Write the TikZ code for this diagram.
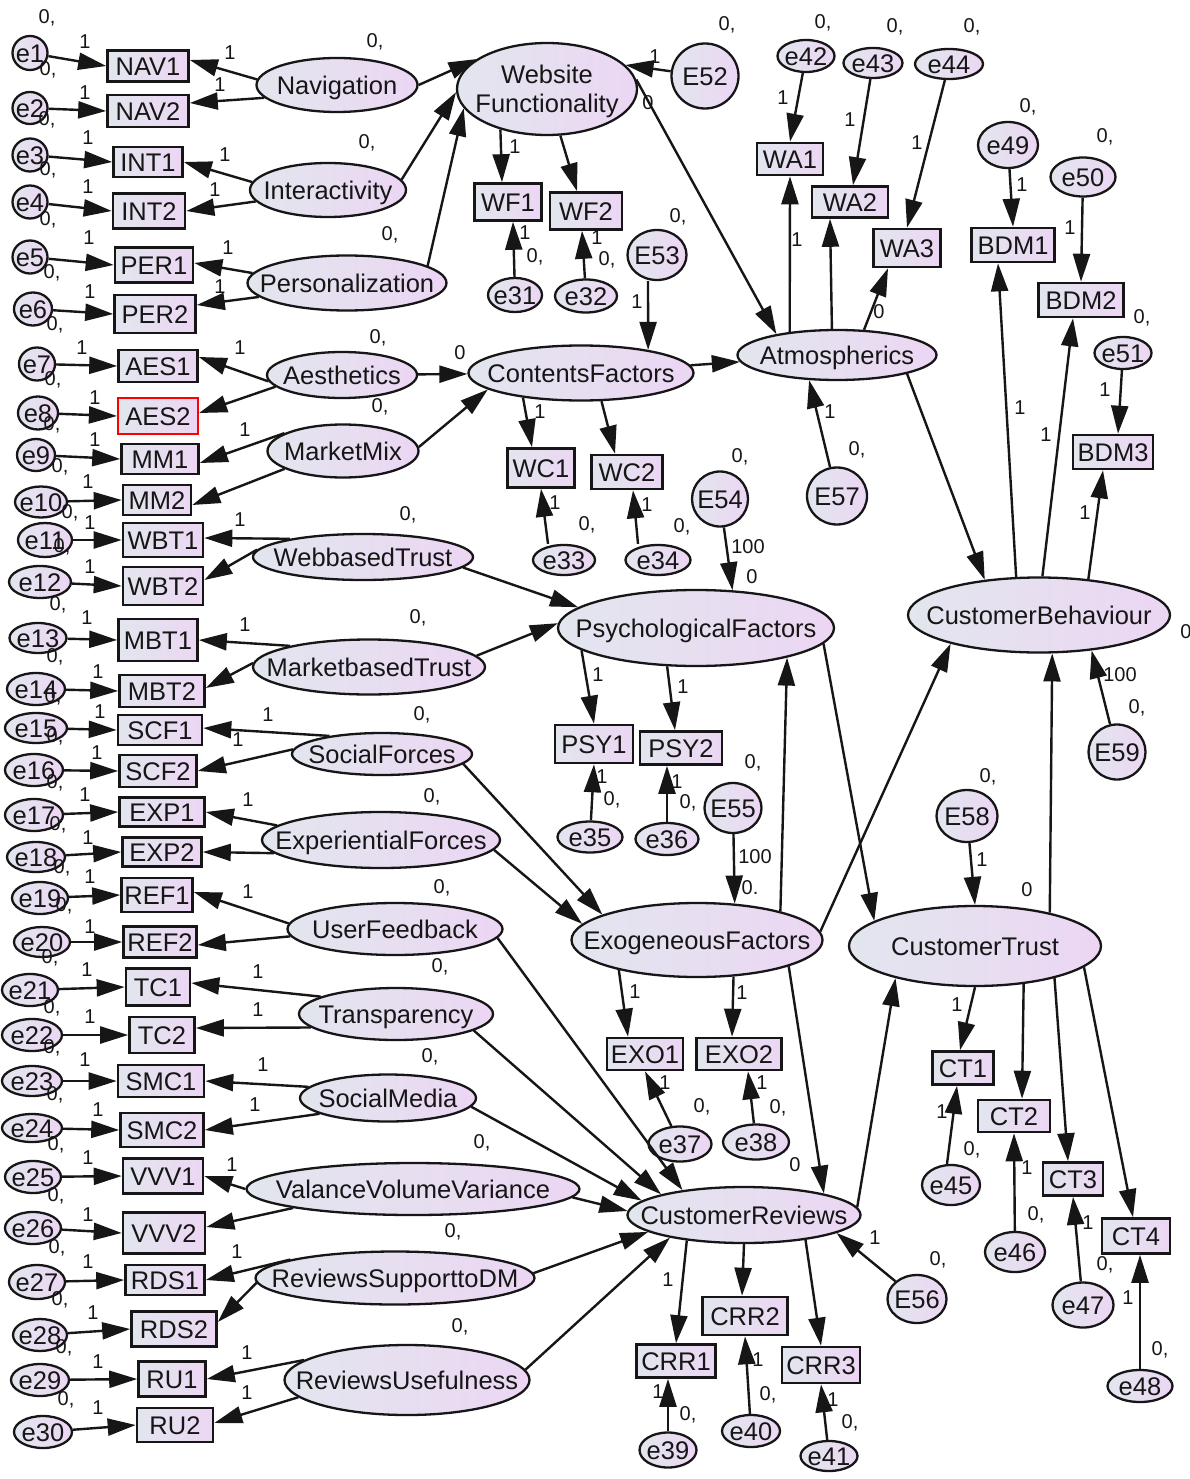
\documentclass[tikz,border=0pt]{standalone}
\usepackage{fontspec}
\setmainfont{Liberation Sans}
\usetikzlibrary{arrows.meta,shapes.geometric}
\definecolor{shl}{RGB}{226,230,238}
\definecolor{shr}{RGB}{236,214,243}
\definecolor{ink}{RGB}{22,22,22}
% centred text of zero size, so that node sizes come from minimum width/height only
\newcommand\zt[1]{\makebox[0pt]{\raisebox{-.36em}[0pt][0pt]{#1}}}
\newcommand\mkE[5]{\node[ov,minimum width=#4pt,minimum height=#5pt] (#1) at (#2) {\zt{#3}};}
\newcommand\mkB[5]{\node[bx,minimum width=#4pt,minimum height=#5pt] (#1) at (#2) {\zt{#3}};}
\tikzset{
  grad/.style={left color=shl,right color=shr},
  ov/.style={ellipse,draw=ink,line width=2.3pt,grad,inner sep=0pt,
    font=\fontsize{25.5}{29}\selectfont,text=ink},
  bx/.style={rectangle,draw=ink,line width=2.6pt,grad,inner sep=0pt,
    font=\fontsize{25.5}{29}\selectfont,text=ink},
  arr/.style={draw=ink,line width=2.4pt,-{Triangle[length=28pt,width=17pt]}},
  lab/.style={inner sep=0pt,font=\fontsize{20}{22}\selectfont,text=ink},
}
\begin{document}
\begin{tikzpicture}[x=1pt,y=-1pt]
\fill[white] (0,0) rectangle (1190,1479);
\useasboundingbox (0,0) rectangle (1190,1479);

% ---------- latent variables ----------
\mkE{nav}{337,85}{Navigation}{161}{54}
\mkE{int}{328,190}{Interactivity}{156}{54}
\mkE{per}{347,283}{Personalization}{199}{55}
\mkE{aes}{342,375}{Aesthetics}{150}{46}
\mkE{mm}{343,451}{MarketMix}{151}{53}
\mkE{wbt}{363,557}{WebbasedTrust}{220}{46}
\mkE{mbt}{369,667}{MarketbasedTrust}{232}{55}
\mkE{sf}{382,754}{SocialForces}{180}{42}
\mkE{expf}{381,840}{ExperientialForces}{238}{56}
\mkE{uf}{395,929}{UserFeedback}{215}{52}
\mkE{tr}{396,1014}{Transparency}{194}{52}
\mkE{sm}{388,1098}{SocialMedia}{176}{47}
\mkE{vvv}{413,1189}{ValanceVolumeVariance}{333}{52}
\mkE{rsdm}{395,1278}{ReviewsSupporttoDM}{279}{53}
\mkE{ru}{407,1380}{ReviewsUsefulness}{245}{70}
\mkE{wf}{547,89}{\begin{tabular}{@{}c@{}}Website\\Functionality\end{tabular}}{180}{92}
\mkE{cf}{581,373}{ContentsFactors}{225}{55}
\mkE{atm}{837,355}{Atmospherics}{199}{50}
\mkE{pf}{696,628}{PsychologicalFactors}{276}{76}
\mkE{ef}{697,940}{ExogeneousFactors}{251}{74}
\mkE{cr}{744,1215}{CustomerReviews}{233}{56}
\mkE{cb}{1039,615}{CustomerBehaviour}{262}{75}
\mkE{ct}{975,946}{CustomerTrust}{252}{80}

% ---------- error terms, left column ----------
\mkE{e1}{30,53}{e1}{35}{34}
\mkE{e2}{30,108}{e2}{35}{32}
\mkE{e3}{30,155}{e3}{35}{33}
\mkE{e4}{30,202}{e4}{35}{33}
\mkE{e5}{30,257}{e5}{35}{33}
\mkE{e6}{33,309}{e6}{38}{33}
\mkE{e7}{37,364}{e7}{36}{33}
\mkE{e8}{38,413}{e8}{40}{33}
\mkE{e9}{36,455}{e9}{38}{32}
\mkE{e10}{41,502}{e10}{52}{31}
\mkE{e11}{45,540}{e11}{54}{34}
\mkE{e12}{40,582}{e12}{62}{32}
\mkE{e13}{38,638}{e13}{57}{30}
\mkE{e14}{36,689}{e14}{58}{32}
\mkE{e15}{36,728}{e15}{62}{30}
\mkE{e16}{34,770}{e16}{58}{32}
\mkE{e17}{34,815}{e17}{58}{32}
\mkE{e18}{36,857}{e18}{58}{30}
\mkE{e19}{40,898}{e19}{56}{32}
\mkE{e20}{42,942}{e20}{56}{30}
\mkE{e21}{30,990}{e21}{56}{32}
\mkE{e22}{32,1035}{e22}{60}{32}
\mkE{e23}{32,1081}{e23}{60}{30}
\mkE{e24}{32,1128}{e24}{60}{28}
\mkE{e25}{33,1177}{e25}{56}{32}
\mkE{e26}{33,1228}{e26}{56}{32}
\mkE{e27}{37,1282}{e27}{56}{34}
\mkE{e28}{40,1335}{e28}{54}{32}
\mkE{e29}{40,1380}{e29}{58}{32}
\mkE{e30}{43,1432}{e30}{58}{32}

% ---------- indicators, left column ----------
\mkB{nav1}{148,66}{NAV1}{81}{31}
\mkB{nav2}{148,111}{NAV2}{81}{32}
\mkB{int1}{148,162}{INT1}{69}{30}
\mkB{int2}{149,211}{INT2}{72}{35}
\mkB{per1}{154,265}{PER1}{78}{35}
\mkB{per2}{155,314}{PER2}{81}{38}
\mkB{aes1}{158,366}{AES1}{79}{32}
\node[bx,draw=red,line width=2.2pt,minimum width=80pt,minimum height=36pt] (aes2) at (158,416) {\zt{AES2}};
\mkB{mm1}{160,459}{MM1}{77}{30}
\mkB{mm2}{157,500}{MM2}{68}{30}
\mkB{wbt1}{163,540}{WBT1}{80}{34}
\mkB{wbt2}{163,586}{WBT2}{80}{38}
\mkB{mbt1}{158,640}{MBT1}{79}{42}
\mkB{mbt2}{162,691}{MBT2}{85}{32}
\mkB{scf1}{160,730}{SCF1}{84}{30}
\mkB{scf2}{158,771}{SCF2}{77}{32}
\mkB{exp1}{162,812}{EXP1}{85}{29}
\mkB{exp2}{162,852}{EXP2}{79}{29}
\mkB{ref1}{157,895}{REF1}{71}{34}
\mkB{ref2}{160,942}{REF2}{73}{31}
\mkB{tc1}{158,987}{TC1}{64}{37}
\mkB{tc2}{162,1035}{TC2}{65}{36}
\mkB{smc1}{161,1081}{SMC1}{86}{32}
\mkB{smc2}{162,1130}{SMC2}{83}{34}
\mkB{vvv1}{163,1176}{VVV1}{80}{35}
\mkB{vvv2}{164,1233}{VVV2}{82}{41}
\mkB{rds1}{165,1280}{RDS1}{79}{30}
\mkB{rds2}{174,1329}{RDS2}{85}{35}
\mkB{ru1}{172,1379}{RU1}{67}{35}
\mkB{ru2}{175,1425}{RU2}{76}{34}

% ---------- indicators and errors, centre and right ----------
\mkB{wf1}{508,202}{WF1}{67}{37}
\mkB{wf2}{586,211}{WF2}{72}{37}
\mkE{e31}{515,295}{e31}{54}{34}
\mkE{e32}{586,296}{e32}{62}{33}
\mkE{E52}{705,76}{E52}{67}{65}
\mkE{E53}{657,255}{E53}{59}{50}
\mkB{wc1}{541,468}{WC1}{67}{39}
\mkB{wc2}{627,472}{WC2}{71}{34}
\mkE{e33}{564,560}{e33}{62}{30}
\mkE{e34}{658,560}{e34}{65}{30}
\mkE{E54}{720,499}{E54}{56}{55}
\mkB{psy1}{594,744}{PSY1}{78}{38}
\mkB{psy2}{681,748}{PSY2}{82}{33}
\mkE{e35}{590,837}{e35}{65}{31}
\mkE{e36}{667,839}{e36}{63}{32}
\mkE{E55}{733,808}{E55}{57}{50}
\mkB{exo1}{645,1054}{EXO1}{76}{32}
\mkB{exo2}{739,1054}{EXO2}{85}{32}
\mkE{e37}{680,1144}{e37}{63}{35}
\mkE{e38}{756,1142}{e38}{66}{35}
\mkB{crr1}{676,1361}{CRR1}{79}{33}
\mkB{crr2}{745,1316}{CRR2}{85}{38}
\mkB{crr3}{821,1365}{CRR3}{78}{36}
\mkE{e39}{668,1450}{e39}{57}{35}
\mkE{e40}{751,1431}{e40}{58}{32}
\mkE{e41}{829,1456}{e41}{57}{30}
\mkE{E56}{917,1299}{E56}{59}{48}
\mkE{e42}{806,56}{e42}{57}{32}
\mkE{e43}{873,63}{e43}{59}{30}
\mkE{e44}{949,64}{e44}{68}{30}
\mkB{wa1}{790,159}{WA1}{66}{32}
\mkB{wa2}{850,202}{WA2}{76}{31}
\mkB{wa3}{907,248}{WA3}{67}{38}
\mkE{e49}{1008,145}{e49}{60}{46}
\mkE{e50}{1083,177}{e50}{65}{39}
\mkE{e51}{1123,353}{e51}{57}{32}
\mkB{bdm1}{1013,245}{BDM1}{83}{34}
\mkB{bdm2}{1081,300}{BDM2}{85}{34}
\mkB{bdm3}{1113,452}{BDM3}{80}{34}
\mkE{E57}{837,496}{E57}{60}{57}
\mkE{E59}{1117,752}{E59}{57}{55}
\mkE{E58}{967,816}{E58}{61}{52}
\mkB{ct1}{963,1068}{CT1}{61}{33}
\mkB{ct2}{1014,1116}{CT2}{72}{32}
\mkB{ct3}{1073,1179}{CT3}{60}{33}
\mkB{ct4}{1136,1236}{CT4}{68}{35}
\mkE{e45}{951,1185}{e45}{58}{40}
\mkE{e46}{1015,1252}{e46}{60}{40}
\mkE{e47}{1083,1305}{e47}{61}{45}
\mkE{e48}{1140,1386}{e48}{65}{32}

% ---------- error terms into left indicators ----------
\foreach \e/\b in {e1/nav1,e2/nav2,e3/int1,e4/int2,e5/per1,e6/per2,e7/aes1,e8/aes2,
  e9/mm1,e10/mm2,e11/wbt1,e12/wbt2,e13/mbt1,e14/mbt2,e15/scf1,e16/scf2,e17/exp1,
  e18/exp2,e19/ref1,e20/ref2,e21/tc1,e22/tc2,e23/smc1,e24/smc2,e25/vvv1,e26/vvv2,
  e27/rds1,e28/rds2,e29/ru1,e30/ru2}
  \draw[arr] (\e) -- (\b.west);

% ---------- loadings, left column ----------
\draw[arr] (nav.176) -- ([yshift=6pt]nav1.east);
\draw[arr] (nav.190) -- ([yshift=8pt]nav2.east);
\draw[arr] (int.174) -- (int1.east);
\draw[arr] (int.189) -- (int2.east);
\draw[arr] (per.174) -- ([yshift=2pt]per1.east);
\draw[arr] (per.189) -- ([yshift=9pt]per2.east);
\draw[arr] (aes.185) -- ([yshift=9pt]aes1.east);
\draw[arr] (aes.190) -- ([yshift=3pt]aes2.east);
\draw[arr] (mm.163) -- ([yshift=-4pt]mm1.east);
\draw[arr] (mm.197) -- ([yshift=-5pt]mm2.east);
\draw[arr] (wbt.166) -- ([yshift=2pt]wbt1.east);
\draw[arr] (wbt.176) -- ([yshift=6pt]wbt2.east);
\draw[arr] (mbt.165) -- (mbt1.east);
\draw[arr] (mbt.178) -- ([yshift=3pt]mbt2.east);
\draw[arr] (sf.161) -- ([yshift=2pt]scf1.east);
\draw[arr] (sf.177) -- (scf2.east);
\draw[arr] (expf.172) -- (exp1.east);
\draw[arr] (expf.187) -- (exp2.east);
\draw[arr] (uf.177) -- ([yshift=3pt]ref1.east);
\draw[arr] (uf.184) -- ([yshift=-3pt]ref2.east);
\draw[arr] (tr.167) -- ([yshift=4pt]tc1.east);
\draw[arr] (tr.189) -- ([yshift=7pt]tc2.east);
\draw[arr] (sm.172) -- (smc1.east);
\draw[arr] (sm.193) -- (smc2.east);
\draw[arr] (vvv.180) -- (vvv1.east);
\draw[arr] (vvv.189) -- ([yshift=6pt]vvv2.east);
\draw[arr] (rsdm.170) -- (rds1.east);
\draw[arr] (rsdm.182) -- ([yshift=7pt]rds2.east);
\draw[arr] (ru.169) -- (ru1.east);
\draw[arr] (ru.189) -- ([yshift=2pt]ru2.east);

% ---------- structural paths ----------
\draw[arr] (nav.east) -- (wf.157);
\draw[arr] (int.8) -- (wf.182);
\draw[arr] (per.12) -- (wf.193);
\draw[arr] (E52) -- (wf.17);
\draw[arr] (wf.221) -- ([xshift=-6pt]wf1.north);
\draw[arr] (wf.286) -- ([xshift=-9pt]wf2.north);
\draw[arr] (e31) -- ([xshift=5pt]wf1.south);
\draw[arr] (e32) -- ([xshift=-4pt]wf2.south);
\draw[arr] (wf.6) -- (atm.161);
\draw[arr] (aes) -- (cf);
\draw[arr] (mm.3) -- (cf.190);
\draw[arr] ([xshift=-9pt]E53.south) -- (cf.19);
\draw[arr] (cf.203) -- ([xshift=-9pt]wc1.north);
\draw[arr] (cf.306) -- ([xshift=-12pt]wc2.north);
\draw[arr] ([xshift=-16pt]e33.north) -- (wc1.south);
\draw[arr] ([xshift=-20pt]e34.north) -- ([xshift=6pt]wc2.south);
\draw[arr] (cf) -- (atm);
\draw[arr] (atm.154) -- (wa1.south);
\draw[arr] (atm.101) -- ([xshift=-20pt]wa2.south);
\draw[arr] (atm.43) -- ([xshift=-19pt]wa3.south);
\draw[arr] (e42) -- (wa1.north);
\draw[arr] (e43) -- ([xshift=3pt]wa2.north);
\draw[arr] (e44) -- (wa3.north);
\draw[arr] (E57) -- (atm.222);
\draw[arr] (atm.345) -- (cb.147);
\draw[arr] (cb.121) -- ([xshift=-15pt]bdm1.south);
\draw[arr] (cb.85) -- ([xshift=-8pt]bdm2.south);
\draw[arr] (cb.36) -- ([xshift=-10pt]bdm3.south);
\draw[arr] (e49) -- (bdm1.north);
\draw[arr] (e50) -- (bdm2.north);
\draw[arr] (e51) -- ([xshift=5pt]bdm3.north);
\draw[arr] (E59) -- (cb.326);
\draw[arr] (wbt.354) -- (pf.170);
\draw[arr] (mbt.6) -- (pf.178);
\draw[arr] (E54) -- (pf.46);
\draw[arr] (pf.191) -- (psy1.north);
\draw[arr] (pf.233) -- ([xshift=-6pt]psy2.north);
\draw[arr] (e35) -- (psy1.south);
\draw[arr] (e36) -- ([xshift=-14pt]psy2.south);
\draw[arr] (pf.353) -- (ct.166);
\draw[arr] (sf.353) -- (ef.165);
\draw[arr] (expf.355) -- (ef.172);
\draw[arr] (E55) -- (ef.44);
\draw[arr] (ef.19) -- (pf.342);
\draw[arr] (ef.201) -- ([xshift=-17pt]exo1.north);
\draw[arr] (ef.315) -- ([xshift=-7pt]exo2.north);
\draw[arr] (e37) -- (exo1.south);
\draw[arr] (e38) -- ([xshift=9pt]exo2.south);
\draw[arr] (ef.4) -- (cb.198);
\draw[arr] (ef.344) -- (cr.15);
\draw[arr] (uf.355) -- (cr.158);
\draw[arr] (tr.348) -- (cr.166);
\draw[arr] (sm.354) -- (cr.172);
\draw[arr] (vvv.357) -- (cr.178);
\draw[arr] (rsdm.2) -- (cr.190);
\draw[arr] (ru.5) -- (cr.197);
\draw[arr] (E56) -- (cr.349);
\draw[arr] (cr.204) -- (crr1.north);
\draw[arr] (cr.270) -- ([xshift=-3pt]crr2.north);
\draw[arr] (cr.338) -- (crr3.north);
\draw[arr] (e39) -- ([xshift=-8pt]crr1.south);
\draw[arr] (e40) -- (crr2.south);
\draw[arr] (e41) -- (crr3.south);
\draw[arr] (cr.4) -- (ct.202);
\draw[arr] (E58) -- (ct.north);
\draw[arr] (ct.24) -- (cb.289);
\draw[arr] (ct.270) -- ([xshift=-3pt]ct1.north);
\draw[arr] (ct.322) -- ([xshift=8pt]ct2.north);
\draw[arr] (ct.338) -- ([xshift=-5pt]ct3.north);
\draw[arr] (ct.349) -- ([xshift=-3pt]ct4.north);
\draw[arr] ([xshift=-4pt]e45.north) -- ([xshift=-6pt]ct1.south);
\draw[arr] (e46) -- (ct2.south);
\draw[arr] (e47) -- (ct3.south);
\draw[arr] (e48) -- ([xshift=4pt]ct4.south);

% ---------- parameter labels ----------
\foreach \x/\y [count=\i] in {47/18,48/70,47/120,48/170,48/220,52/273,55/325,53/380,
  52/425,60/467,70/513,62/547,58/605,55/657,53/697,55/737,55/783,58/825,62/868,64/906,
  50/958,52/1008,52/1048,55/1095,56/1145,56/1196,57/1248,60/1300,64/1348,66/1400,
  375/42,367/143,390/235,378/338,380/407,408/515,418/618,422/715,432/797,442/888,
  440/967,430/1057,482/1143,453/1232,460/1327,
  727/25,678/217,535/257,607/260,587/525,682/527,740/457,857/450,612/800,688/803,
  753/763,702/1107,778/1108,688/1415,768/1395,850/1423,938/1260,972/1150,1036/1215,
  1105/1265,1160/1350,988/777,1137/708,823/23,895/27,972/27,1028/107,1105/137,1142/318}
  \node[lab] (zc\i) at (\x,\y) {0,};
\foreach \x/\y [count=\i] in {648/103,460/353,879/312,752/577,1027/890,795/1165,1186/632}
  \node[lab] (zz\i) at (\x,\y) {0};
\node[lab] (zd1) at (750,888) {0.};
\foreach \x/\y [count=\i] in {748/547,755/857,1120/675}
  \node[lab] (hd\i) at (\x,\y) {100};
\foreach \x/\y [count=\i] in {85/42,85/93,88/138,88/187,89/238,90/292,82/348,95/398,
  95/440,88/482,90/523,90/567,87/618,98/672,100/712,97/753,85/795,88/838,90/877,90/927,
  87/970,90/1017,85/1060,98/1110,88/1158,88/1215,88/1262,93/1313,98/1362,98/1408,
  230/53,220/85,225/155,215/190,228/248,220/287,240/348,245/430,240/520,245/625,
  268/715,238/740,248/800,248/892,258/972,258/1010,263/1065,255/1105,232/1165,237/1252,
  247/1353,247/1393,
  655/57,515/147,525/233,597/238,637/302,540/412,555/503,647/505,598/675,683/687,
  602/777,677/782,635/992,742/993,665/1083,762/1083,668/1280,658/1392,758/1360,833/1400,
  875/1238,783/98,850/120,917/143,797/240,830/412,1022/185,1070/228,1105/390,1020/408,
  1046/435,1085/513,982/860,957/1005,942/1112,1027/1168,1088/1223,1128/1298}
  \node[lab] (un\i) at (\x,\y) {1};
\end{tikzpicture}
\end{document}
